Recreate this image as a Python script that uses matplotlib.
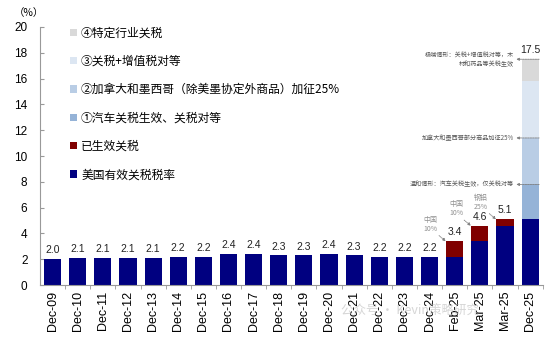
import matplotlib
matplotlib.use("Agg")
import matplotlib.pyplot as plt
from matplotlib.patches import Patch

plt.rcParams['font.family'] = ['Liberation Sans', 'Noto Sans CJK SC', 'DejaVu Sans']

categories = ['Dec-09', 'Dec-10', 'Dec-11', 'Dec-12', 'Dec-13', 'Dec-14', 'Dec-15', 'Dec-16',
              'Dec-17', 'Dec-18', 'Dec-19', 'Dec-20', 'Dec-21', 'Dec-22', 'Dec-23', 'Dec-24',
              'Feb-25', 'Mar-25', 'Mar-25', 'Dec-25']
base_rate = [2.0, 2.1, 2.1, 2.1, 2.1, 2.2, 2.2, 2.4, 2.4, 2.3, 2.3, 2.4, 2.3, 2.2, 2.2, 2.2,
             2.2, 3.4, 4.6, 5.1]
effective = [0]*16 + [1.2, 1.2, 0.5, 0.0]
step1 = [0]*19 + [2.7]
step2 = [0]*19 + [3.6]
step3 = [0]*19 + [4.4]
step4 = [0]*19 + [1.7]
totals = [2.0, 2.1, 2.1, 2.1, 2.1, 2.2, 2.2, 2.4, 2.4, 2.3, 2.3, 2.4, 2.3, 2.2, 2.2, 2.2,
          3.4, 4.6, 5.1, 17.5]
series_names = ['美国有效关税税率', '已生效关税', '①汽车关税生效、关税对等',
                '②加拿大和墨西哥（除美墨协定外商品）加征25%', '③关税+增值税对等', '④特定行业关税']
colors = ['#000080', '#800000', '#95b3d7', '#b9cde5', '#dce6f2', '#d9d9d9']
yticks = [0, 2, 4, 6, 8, 10, 12, 14, 16, 18, 20]

cjk = ['Noto Sans CJK SC', 'DejaVu Sans']

fig = plt.figure(figsize=(5.5, 3.37), dpi=100)
ax = fig.add_axes([0.0727, 0.154, 0.914, 0.766])

x = list(range(len(categories)))
w = 0.68
bottom = [0.0]*len(x)
for vals, c in zip([base_rate, effective, step1, step2, step3, step4], colors):
    ax.bar(x, vals, width=w, bottom=bottom, color=c, edgecolor='none', zorder=2)
    bottom = [b + v for b, v in zip(bottom, vals)]

for xi, t in zip(x, totals):
    ax.text(xi, t + 0.3, f'{t:.1f}', ha='center', va='bottom', fontsize=7.5, color='#222222')

ax.set_xlim(-0.5, len(x) - 0.5)
ax.set_ylim(0, 20)
ax.set_yticks(yticks)
ax.set_xticks(x)
ax.set_xticklabels(categories, rotation=90, fontsize=9)
ax.set_xticks([i + 0.5 for i in x], minor=True)
ax.tick_params(axis='x', which='major', length=0, pad=4)
ax.tick_params(axis='x', which='minor', length=3, color='#999999')
ax.tick_params(axis='y', labelsize=8.5, length=3, color='#999999', direction='in', pad=9)
for s in ['top', 'right']:
    ax.spines[s].set_visible(False)
for s in ['left', 'bottom']:
    ax.spines[s].set_color('#999999')
    ax.spines[s].set_linewidth(0.8)

fig.text(0.025, 0.96, '（%）', fontsize=7.5, ha='left', va='center', family=cjk)

handles = [Patch(facecolor=c, edgecolor='none', label=n) for c, n in zip(colors, series_names)]
leg = ax.legend(handles=handles[::-1], loc='upper left', bbox_to_anchor=(0.05, 1.02),
                frameon=False, handlelength=0.6, handleheight=0.6,
                handletextpad=0.35, labelspacing=1.3, borderaxespad=0.0,
                prop={'family': cjk, 'size': 8.5})

# annotations on Dec-25 segments
last = len(x) - 1
seg_tops = [base_rate[last] + step1[last],
            base_rate[last] + step1[last] + step2[last],
            totals[last]]
ann_texts = ['温和情形：汽车关税生效，仅关税对等',
             '加拿大和墨西哥部分商品加征25%',
             '极端情形：关税+增值税对等，木\n材和药品等关税生效']
for yv, txt in zip(seg_tops, ann_texts):
    ax.annotate('', xy=(last - 0.55, yv), xytext=(last + 0.36, yv),
                arrowprops=dict(arrowstyle='-|>', color='#808080', lw=0.6, ls=(0, (2, 1)),
                                mutation_scale=4, shrinkA=0, shrinkB=0))
    ax.text(last - 0.65, yv, txt, ha='right', va='center', fontsize=4.4, style='italic',
            color='#555555', family=cjk, linespacing=1.3)

small_labels = ['中国\n10%', '中国\n10%', '钢铝\n25%']
for i, lab in zip([16, 17, 18], small_labels):
    tip_y = totals[i]
    ax.annotate(lab, xy=(i - 0.36, tip_y), xytext=(i - 0.95, tip_y + 0.65),
                ha='center', va='bottom', fontsize=5, color='#909090',
                family=cjk, linespacing=1.2,
                arrowprops=dict(arrowstyle='-|>', color='#808080', lw=0.6, ls=(0, (1, 1)),
                                mutation_scale=4, shrinkA=0, shrinkB=0,
                                relpos=(0.85, 0.0)))

fig.text(0.62, 0.075, '公众号 · Kevin策略研究', fontsize=9, color='#bbbbbb', alpha=0.6,
         ha='left', va='center', family=cjk, zorder=5)

fig.savefig('out.png', dpi=100)
